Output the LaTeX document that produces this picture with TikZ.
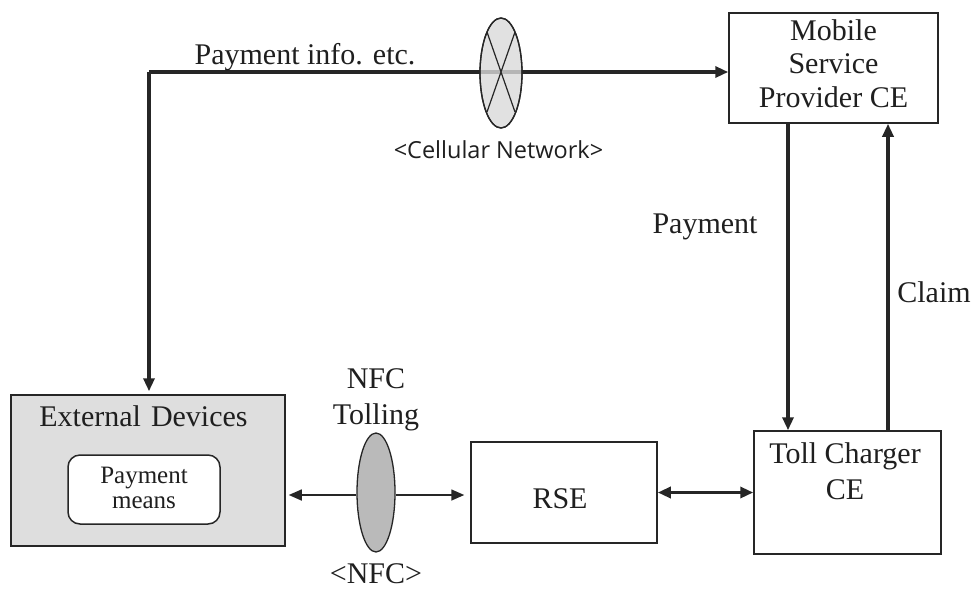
\documentclass[tikz,border=0pt]{standalone}
\usepackage{fontspec}
\setmainfont{Liberation Serif}
\newfontfamily\sansf{Open Sans}
\usetikzlibrary{arrows.meta,shapes.geometric}
\begin{document}
\begin{tikzpicture}[x=1pt,y=1pt,
  txt/.style={font=\fontsize{30}{34}\selectfont, text=black!88, align=center, inner sep=0pt, anchor=base},
  box/.style={draw=black!85, line width=1.5pt, inner sep=0pt},
  tip/.tip={Triangle[length=13pt,width=11pt]},
  thick line/.style={line width=3.2pt, draw=black!85, -tip},
  thin line/.style={line width=1.6pt, draw=black!85, -tip},
]
\useasboundingbox (0,0) rectangle (973,-592);
% boxes
\node[box, minimum width=209pt, minimum height=110pt] (mobile) at (833.5,-68) {};
\node[txt, font=\fontsize{30}{33.5}\selectfont] (mobiletxt) at (833.5,-107) {Mobile\\Service\\Provider CE};
\node[box, minimum width=187pt, minimum height=123pt] (toll) at (847.5,-492.5) {};
\node[txt, font=\fontsize{30}{36}\selectfont] (tolltxt) at (845,-499) {Toll Charger\\CE};
\node[box, minimum width=186pt, minimum height=101pt] (rse) at (564,-492.5) {};
\node[txt] (rsetxt) at (560,-508) {RSE};
\node[box, fill=black!13, minimum width=274pt, minimum height=151pt] (ext) at (148,-470.5) {};
\node[txt] (exttxt) at (143.5,-426) {External\,\,Devices};
\node[box, fill=white, rounded corners=12pt, minimum width=152pt, minimum height=69pt] (pm) at (144,-489.5) {};
\node[txt, font=\fontsize{25}{25}\selectfont] (pmtxt) at (144,-508) {Payment\\means};
% NFC ellipse
\node[draw=black!85, line width=1.3pt, fill=black!27, ellipse, minimum width=38pt, minimum height=119pt, inner sep=0pt] (nfc) at (376,-492.5) {};
\node[txt, font=\fontsize{30}{36}\selectfont] (nfclbl) at (376,-424) {NFC\\Tolling};
\node[txt] (nfcnm) at (376,-583) {<NFC>};
% lower arrows
\coordinate (nfcl) at ([yshift=-2.5pt]nfc.west);
\coordinate (nfcr) at ([yshift=-2.5pt]nfc.east);
\draw[thin line, shorten >=3pt] (nfcl) -- (ext.east |- nfcl);
\draw[thin line, shorten >=6pt] (nfcr) -- (rse.west |- nfcr);
\draw[line width=3.2pt, draw=black!85, tip-tip] (rse.east) -- (toll.west |- rse.east);
% top connector
\coordinate (corner) at (149,-72);
\draw[thick line, shorten >=3pt] (corner) -- (corner |- ext.north);
\draw[thick line] (corner) -- (mobile.west |- corner);
% cellular ellipse
\node[draw=black!85, line width=1.3pt, fill=black!15, fill opacity=0.8, ellipse, minimum width=42pt, minimum height=110pt, inner sep=0pt] (cell) at (501,-73) {};
\begin{scope}
\clip (501,-73) ellipse [x radius=21pt, y radius=55pt];
\draw[line width=1.2pt, black!85] (487,-32) -- (515,-112) (515,-32) -- (487,-112);
\end{scope}
\draw[draw=black!85, line width=1.3pt] (cell) ellipse [x radius=21pt, y radius=55pt];
\node[font=\sansf\fontsize{23.5}{26}\selectfont, text=black!88, inner sep=0pt, anchor=base] (celllbl) at (498.5,-158) {<Cellular Network>};
\node[txt] (pinfo) at (305,-64) {Payment info. etc.};
% vertical arrows
\draw[thick line] ([xshift=-45.5pt]mobile.south) -- ([xshift=-45.5pt]mobile.south |- toll.north);
\draw[thick line] ([xshift=40.5pt]toll.north) -- ([xshift=40.5pt]toll.north |- mobile.south);
\node[txt] (paylbl) at (705,-233) {Payment};
\node[txt] (claimlbl) at (934,-302) {Claim};
\end{tikzpicture}
\end{document}
